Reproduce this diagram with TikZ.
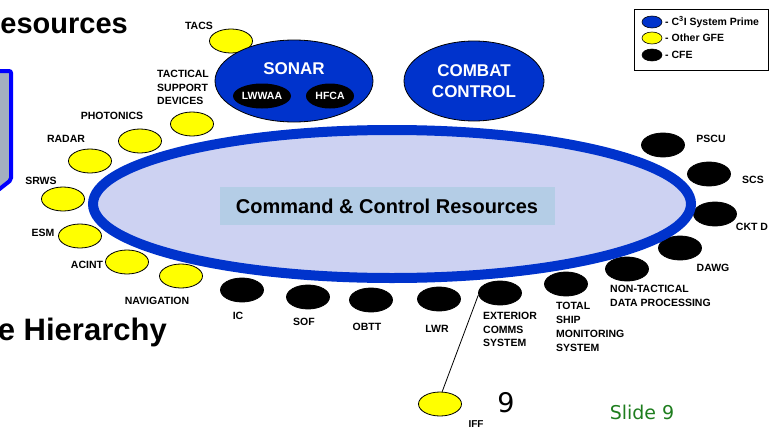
\documentclass[tikz,border=0pt]{standalone}
\usepackage{fontspec}
\setmainfont{Liberation Sans}
\newfontfamily\slidefont{DejaVu Sans}
\usetikzlibrary{shapes.geometric}
\definecolor{cthree}{RGB}{0,51,204}
\definecolor{patfill}{RGB}{205,210,242}
\definecolor{boxfill}{RGB}{180,205,230}
\definecolor{gfe}{RGB}{255,255,0}
\definecolor{leftgray}{RGB}{163,175,192}
\definecolor{leftblue}{RGB}{0,0,255}
\definecolor{slidegreen}{RGB}{30,125,30}
\tikzset{
  yel/.style={ellipse, draw=black, fill=gfe, line width=0.8pt, minimum width=43pt, minimum height=24pt, inner sep=0pt},
  blk/.style={ellipse, draw=black, fill=black, line width=0.8pt, minimum width=43pt, minimum height=24pt, inner sep=0pt},
  lbl/.style={font=\bfseries\fontsize{10.5}{13.5}\selectfont, inner sep=0pt, align=left},
  legtext/.style={font=\bfseries\fontsize{10.5}{12}\selectfont, inner sep=0pt, anchor=west},
  bigtitle/.style={font=\bfseries\fontsize{29}{32}\selectfont, inner sep=0pt, anchor=base east}
}
\begin{document}
\begin{tikzpicture}[x=1pt,y=-1pt]
\useasboundingbox (0,0) rectangle (776,431);
\clip (0,0) rectangle (776,431);

% left partial box
\draw[leftblue, line width=4pt, fill=leftgray, rounded corners=2pt] (-10,71) -- (11,71) -- (11,180) -- (-3,191) -- (-10,191);

% partial titles
\node[bigtitle] (t1) at (128,33) {esources};
\node[bigtitle, font=\bfseries\fontsize{31}{34}\selectfont] (t2) at (167,340) {e Hierarchy};

% yellow (other GFE)
\node[yel] (tacs) at (231,41) {};
\node[yel] (tsd) at (192,124) {};
\node[yel] (phot) at (140,141) {};
\node[yel] (radar) at (90,161) {};
\node[yel] (srws) at (63,199) {};
\node[yel] (esm) at (80,236) {};
\node[yel] (acint) at (127,262) {};
\node[yel] (nav) at (181,276) {};
\node[yel] (iff) at (440,404) {};

% black (CFE)
\node[blk] (ic) at (242,290) {};
\node[blk] (sof) at (308,297) {};
\node[blk] (obtt) at (371,300) {};
\node[blk] (lwr) at (439,299) {};
\node[blk] (ext) at (500,293) {};
\node[blk] (tsms) at (566,284) {};
\node[blk] (ntdp) at (627,269) {};
\node[blk] (dawg) at (680,248) {};
\node[blk] (cktd) at (715,214) {};
\node[blk] (scs) at (709,174) {};
\node[blk] (pscu) at (663,145) {};

% big ellipse
\node[ellipse, draw=cthree, fill=patfill, line width=10pt, minimum width=598pt, minimum height=148pt, inner sep=0pt] (cc) at (392,204) {};
\node[fill=boxfill, minimum width=335pt, minimum height=38pt, inner sep=0pt, font=\bfseries\fontsize{20}{22}\selectfont] (ccl) at (387,206) {Command \& Control Resources};

% SONAR and COMBAT CONTROL
\node[ellipse, draw=black, fill=cthree, line width=0.8pt, minimum width=158pt, minimum height=82pt, inner sep=0pt] (sonar) at (294,81) {};
\node[text=white, font=\bfseries\fontsize{17}{19}\selectfont, inner sep=0pt] (sonarl) at (294,69) {SONAR};
\node[ellipse, fill=black, minimum width=58pt, minimum height=25pt, inner sep=0pt, text=white, font=\bfseries\fontsize{10.5}{12}\selectfont] (lwwaa) at (262,96) {LWWAA};
\node[ellipse, fill=black, minimum width=48pt, minimum height=25pt, inner sep=0pt, text=white, font=\bfseries\fontsize{10.5}{12}\selectfont] (hfca) at (330,96) {HFCA};
\node[ellipse, draw=black, fill=cthree, line width=0.8pt, minimum width=140pt, minimum height=80pt, inner sep=0pt, text=white, font=\bfseries\fontsize{17}{20.5}\selectfont, align=center] (combat) at (474,81) {COMBAT\\CONTROL};

% connector
\draw[line width=0.8pt] (iff.80) -- (ext.185);

% labels
\node[lbl] (tacsl) at (199,26) {TACS};
\node[lbl, anchor=north west] (tsdl) at (157,70) {TACTICAL\\SUPPORT\\DEVICES};
\node[lbl] (photl) at (112,116) {PHOTONICS};
\node[lbl] (radarl) at (66,139) {RADAR};
\node[lbl] (srwsl) at (41,181) {SRWS};
\node[lbl] (esml) at (43,233) {ESM};
\node[lbl] (acintl) at (87,265) {ACINT};
\node[lbl] (navl) at (157,301) {NAVIGATION};
\node[lbl] (icl) at (238,316) {IC};
\node[lbl] (sofl) at (304,322) {SOF};
\node[lbl] (obttl) at (367,327) {OBTT};
\node[lbl] (lwrl) at (437,329) {LWR};
\node[lbl, anchor=north west] (extl) at (483,312) {EXTERIOR\\COMMS\\SYSTEM};
\node[lbl, anchor=north west, font=\bfseries\fontsize{10.5}{14}\selectfont] (tsmsl) at (556,302) {TOTAL\\SHIP\\MONITORING\\SYSTEM};
\node[lbl, anchor=north west] (ntdpl) at (610,285) {NON-TACTICAL\\DATA PROCESSING};
\node[lbl] (dawgl) at (713,268) {DAWG};
\node[lbl] (cktdl) at (752,227) {CKT D};
\node[lbl] (scsl) at (753,180) {SCS};
\node[lbl] (pscul) at (711,139) {PSCU};
\node[lbl, font=\bfseries\fontsize{10}{12}\selectfont] (iffl) at (476,424) {IFF};

% legend
\node[draw=black, line width=1pt, minimum width=134pt, minimum height=61pt, inner sep=0pt] (legend) at (701,39.5) {};
\node[ellipse, draw=black, fill=cthree, line width=0.6pt, minimum width=20pt, minimum height=12pt, inner sep=0pt] (lg1) at (652,22) {};
\node[ellipse, draw=black, fill=gfe, line width=0.6pt, minimum width=20pt, minimum height=12pt, inner sep=0pt] (lg2) at (652,38) {};
\node[ellipse, draw=black, fill=black, line width=0.6pt, minimum width=20pt, minimum height=12pt, inner sep=0pt] (lg3) at (652,55) {};
\node[legtext] (lt1) at (665,22) {- C\textsuperscript{3}I System Prime};
\node[legtext] (lt2) at (665,38) {- Other GFE};
\node[legtext] (lt3) at (665,55) {- CFE};

% slide numbers
\node[font=\slidefont\fontsize{27}{30}\selectfont, inner sep=0pt] (num) at (506,403) {9};
\node[font=\slidefont\fontsize{19}{22}\selectfont, text=slidegreen, inner sep=0pt] (slide) at (642,412) {Slide 9};
\end{tikzpicture}
\end{document}
